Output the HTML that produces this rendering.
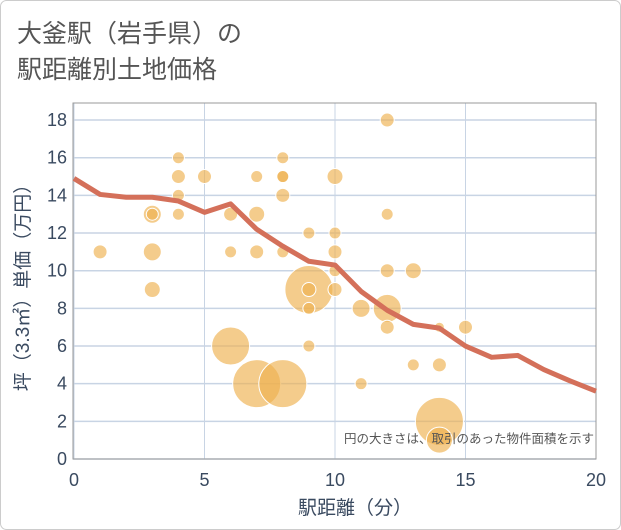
<!DOCTYPE html>
<html><head><meta charset="utf-8"><style>
body{margin:0;background:#fff;}
svg{display:block;font-family:"Liberation Sans","Noto Sans CJK JP",sans-serif;}
</style></head><body>
<svg id="c" width="621" height="530">
<rect x="0.5" y="0.5" width="620" height="529" rx="6" fill="#fff" stroke="#ccc"/>
<text x="17" y="42" font-size="25" fill="#555">大釜駅（岩手県）の</text>
<text x="17" y="78" font-size="25" fill="#555">駅距離別土地価格</text>
<g id="grid"></g>
<rect x="73" y="103" width="523" height="356" fill="none" stroke="#999"/>
<g id="bubbles"></g>
<g id="line"></g>
<g id="ticks"></g>
<text x="355" y="514" font-size="19" fill="#3a4a60" text-anchor="middle">駅距離（分）</text>
<text transform="translate(29,283) rotate(-90)" font-size="19" fill="#3a4a60" text-anchor="middle">坪（3.3㎡）単価（万円）</text>
<text x="594" y="443" font-size="12.5" fill="#555" text-anchor="end">円の大きさは、取引のあった物件面積を示す</text>
</svg>
<script>
const xTicks=[0,5,10,15,20];
const yTicks=[0,2,4,6,8,10,12,14,16,18];
const bx=[1,3,3,3,3,4,4,4,4,5,6,6,6,7,7,7,7,8,8,8,8,8,8,9,9,9,9,9,10,10,10,10,10,11,11,12,12,12,12,12,13,13,14,14,14,14,15];
const by=[11,13,13,11,9,16,15,14,13,15,13,11,6,15,13,11,4,16,15,15,14,11,4,12,9,9,8,6,15,12,11,10,9,8,4,18,13,10,8,7,10,5,7,5,2,1,7];
const br=[7,9,6,9,8,6,7,6,6,7,7,6,19,6,8,7,24,6,6,6,7,6,24,6,24,7,6,6,8,6,7,6,7,9,6,7,6,7,14,7,8,6,5,7,24,13,7];
const lx=[0,1,2,3,4,5,6,7,8,9,10,11,12,13,14,15,16,17,18,19,20];
const ly=[14.9,14.05,13.9,13.9,13.7,13.1,13.55,12.2,11.3,10.5,10.3,8.9,7.9,7.15,6.95,6.0,5.4,5.5,4.75,4.15,3.6];
const NS='http://www.w3.org/2000/svg';
const X=v=>74+v*26.1, Y=v=>459-v*18.83;
function mk(t,a,p){const e=document.createElementNS(NS,t);for(const k in a)e.setAttribute(k,a[k]);p.appendChild(e);return e;}
const g=document.getElementById('grid'),tk=document.getElementById('ticks');
xTicks.forEach(v=>{
 const l=mk('line',{x1:X(v),x2:X(v),y1:103,y2:459,stroke:'#c8d4e4','stroke-width':1},g);
 
 
 const t=mk('text',{x:X(v),y:486,'font-size':18,fill:'#3a4a60','text-anchor':'middle'},tk);t.textContent=v;
 
 
});
yTicks.forEach(v=>{
 const l=mk('line',{x1:73,x2:596,y1:Y(v),y2:Y(v),stroke:'#c8d4e4','stroke-width':1.5},g);
 
 
 const t=mk('text',{x:67,y:Y(v)+6,'font-size':18,fill:'#3a4a60','text-anchor':'end'},tk);t.textContent=v;
 
 
});
const bg=document.getElementById('bubbles');
bx.forEach((v,i)=>{
 const c=mk('circle',{cx:X(v),cy:Y(by[i]),r:br[i],fill:'rgba(238,176,78,0.65)',stroke:'#fff','stroke-width':1},bg);
 
 
});
const p=mk('polyline',{points:lx.map((v,i)=>X(v)+','+Y(ly[i])).join(' '),fill:'none',stroke:'#d4705a','stroke-width':5,'stroke-linejoin':'round'},document.getElementById('line'));


</script>
</body></html>
